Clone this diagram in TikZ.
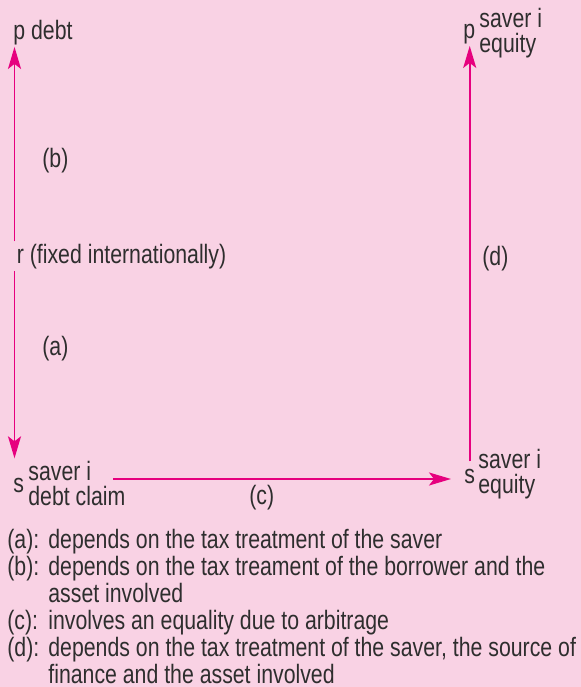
\documentclass[tikz,border=0pt]{standalone}
\usepackage{fontspec}
\setmainfont{Liberation Sans}[FakeStretch=0.8]
\usepackage{tikz}
\usetikzlibrary{arrows.meta}

\definecolor{bgpink}{HTML}{F9D2E4}
\definecolor{flowpink}{HTML}{E6007E}
\definecolor{inkgrey}{HTML}{2E2E2E}

\tikzset{
	txt/.style={anchor=base west, inner sep=1pt, text=inkgrey},
	flow/.style={draw=flowpink, line width=0.9pt, -{Stealth[length=11pt, width=6.5pt, inset=2.5pt]}}
}

\begin{document}
\begin{tikzpicture}[x=0.5pt, y=-0.5pt, font=\fontsize{13.3}{13}\selectfont]
\useasboundingbox[fill=bgpink] (0,0) rectangle (581,687);

\node (pdebt) at (11,39) [txt] {p debt};
\node (r) at (14.5,263) [txt] {r (fixed internationally)};
	\node (b) at (40,167) [txt] {(b)};
	\node (a) at (40,355) [txt] {(a)};

\node (sdebt) at (11,492) [txt] {s};
	\node (sdebtsav) at (26,480) [txt] {saver i};
	\node (sdebtclm) at (26,505) [txt] {debt claim};
	\node (c) at (247,504) [txt] {(c)};

\node (seq) at (462,483) [txt] {s};
	\node (seqsav) at (476,468) [txt] {saver i};
	\node (seqeq) at (476,493) [txt] {equity};

\node (peq) at (461,38) [txt] {p};
	\node (peqsav) at (477,27) [txt] {saver i};
	\node (peqeq) at (477,52) [txt] {equity};
	\node (d) at (480,265) [txt] {(d)};

\draw[flow] (r.north west) -- (r.north west |- pdebt.south);
\draw[flow] (r.south west) -- (r.south west |- sdebtsav.north);
\draw[flow, shorten <=10pt, shorten >=5.5pt] ([yshift=-1.5pt]sdebtsav.east |- seq.west) -- ([yshift=-1.5pt]seq.west);
\draw[flow, shorten <=2.5pt] (seq.north) -- (seq.north |- peq.south);

% key to the labels
\node (key) at (7,548) [txt, inner sep=0pt] {%
	\begin{tabular}[t]{@{}p{20.5pt}@{}l@{}}
	(a): & depends on the tax treatment of the saver\\
	(b): & depends on the tax treament of the borrower and the\\
	     & asset involved\\
	(c): & involves an equality due to arbitrage\\
	(d): & depends on the tax treatment of the saver, the source of\\
	     & finance and the asset involved
	\end{tabular}};
\end{tikzpicture}
\end{document}
